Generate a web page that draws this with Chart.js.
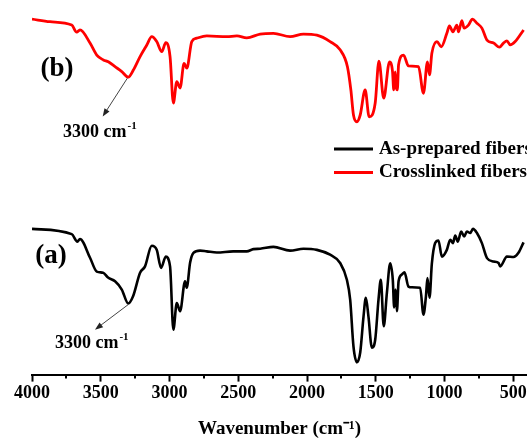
<!DOCTYPE html>
<html>
<head>
<meta charset="utf-8">
<script src="https://cdn.jsdelivr.net/npm/chart.js@4.4.0/dist/chart.umd.min.js"></script>
<style>
  html, body { margin: 0; padding: 0; background: #fff; overflow: hidden; }
  #wrap { width: 527px; height: 441px; overflow: hidden; }
</style>
</head>
<body>
<div id="wrap"><canvas id="ftir" width="560" height="441"></canvas></div>
<script>
const SERIF = '"Liberation Serif", "Times New Roman", serif';

//As-prepared fibers (a), wavenumber (cm-1) and transmittance (a.u.)
const asPreparedWn = [4000, 3711, 3670, 3651, 3578, 3529, 3483, 3447, 3396, 3347, 3300, 3265, 3214, 3178, 3129, 3093, 3061, 3027, 2996, 2972, 2947, 2923, 2887, 2875, 2850, 2826, 2778, 2729, 2656, 2537, 2438, 2390, 2341, 2244, 2123, 2026, 1928, 1832, 1759, 1710, 1686, 1662, 1637, 1613, 1589, 1572, 1553, 1528, 1504, 1480, 1463, 1442, 1419, 1395, 1376, 1366, 1356, 1346, 1334, 1310, 1291, 1262, 1237, 1177, 1153, 1135, 1124, 1109, 1092, 1068, 1044, 1019, 983, 958, 939, 922, 903, 879, 857, 837, 813, 793, 764, 728, 691, 643, 607, 595, 546, 498, 462, 425];
const asPreparedT = [38.9, 37.5, 35.5, 36.2, 31.2, 27.5, 27.2, 25.9, 24.9, 22.7, 19.0, 20.9, 27.2, 28.9, 34.4, 33.3, 28.5, 31.5, 28.9, 12.0, 19.1, 16.9, 24.9, 23.2, 29.9, 32.5, 33.1, 32.9, 32.6, 32.9, 32.9, 33.5, 33.6, 34.1, 33.1, 33.6, 33.3, 32.0, 29.8, 25.3, 20.0, 7.5, 3.3, 5.9, 15.5, 20.5, 15.5, 7.2, 9.3, 20.0, 25.3, 12.9, 21.8, 29.7, 25.3, 17.9, 22.7, 16.9, 24.9, 26.7, 27.3, 23.5, 23.3, 23.2, 16.0, 20.9, 25.8, 20.5, 29.6, 35.1, 35.8, 31.5, 33.3, 36.0, 35.1, 37.1, 35.5, 38.2, 36.9, 38.2, 37.8, 38.9, 37.8, 35.1, 31.1, 30.2, 29.8, 28.9, 31.5, 31.4, 32.5, 35.3];

//Crosslinked fibers (b)
const crosslinkedWn = [4000, 3869, 3711, 3675, 3651, 3578, 3529, 3481, 3445, 3396, 3347, 3300, 3263, 3214, 3165, 3129, 3093, 3056, 3027, 2996, 2972, 2947, 2923, 2894, 2874, 2838, 2802, 2729, 2583, 2510, 2438, 2341, 2244, 2123, 2026, 1928, 1832, 1759, 1706, 1681, 1662, 1637, 1613, 1577, 1548, 1504, 1477, 1442, 1400, 1378, 1369, 1359, 1352, 1343, 1334, 1298, 1262, 1189, 1153, 1124, 1109, 1092, 1055, 1024, 983, 964, 939, 910, 898, 874, 857, 826, 797, 764, 728, 691, 643, 600, 571, 546, 522, 486, 425];
const crosslinkedT = [94.9, 94.2, 93.3, 91.4, 92.0, 88.5, 85.3, 84.0, 83.5, 82.2, 80.9, 79.4, 81.3, 84.9, 88.0, 90.2, 88.9, 86.2, 88.6, 84.9, 72.5, 78.2, 76.5, 83.1, 81.8, 88.9, 89.8, 90.4, 90.2, 90.4, 89.9, 90.9, 91.1, 90.2, 90.9, 90.6, 88.9, 86.7, 82.2, 76.0, 69.3, 67.5, 69.3, 76.0, 68.8, 72.5, 83.7, 73.8, 83.5, 80.9, 76.0, 80.8, 76.9, 76.0, 82.7, 85.3, 82.4, 82.2, 75.1, 83.5, 80.0, 85.8, 88.9, 87.5, 91.1, 93.1, 91.5, 93.3, 91.5, 94.5, 92.5, 93.3, 94.9, 93.8, 92.5, 89.3, 88.5, 87.4, 88.5, 89.1, 88.0, 88.9, 92.0];

const seriesLabels = ["As-prepared fibers", "Crosslinked fibers"];
const seriesColors = ["#000000", "#ff0000"];
//labelled ticks and the unlabelled ticks between them
const tickValues = [4000, 3500, 3000, 2500, 2000, 1500, 1000, 500];
const minorTickValues = [3750, 3250, 2750, 2250, 1750, 1250, 750];

//annotations, placed in data units: [wavenumber, transmittance]
const curveTags = [
  { text: "(b)", at: [3818, 81.6] },
  { text: "(a)", at: [3862, 31.7] },
];
const peakNotes = [
  { from: [3307, 79.1], to: [3486, 68.9], label: [3774, 63.5] },
  { from: [3300, 18.7], to: [3542, 12.0], label: [3833, 7.2] },
];

const toPoints = (xs, ys) => xs.map((x, i) => ({ x: x, y: ys[i] }));

//draw text with a superscript after it
const drawSup = (ctx, x, y, base, sup, size) => {
  ctx.font = `bold ${size}px ${SERIF}`;
  ctx.fillText(base, x, y);
  const w = ctx.measureText(base).width;
  ctx.font = `bold ${Math.round(size * 0.62)}px ${SERIF}`;
  ctx.fillText(sup, x + w + 1, y - size * 0.42);
};

const extras = {
  id: "extras",
  afterDraw(chart) {
    const ctx = chart.ctx;
    const xs = chart.scales.x;
    const ys = chart.scales.y;
    const area = chart.chartArea;
    ctx.save();
    //minor ticks
    ctx.strokeStyle = "#000";
    ctx.lineWidth = 2;
    minorTickValues.forEach((v) => {
      const px = Math.round(xs.getPixelForValue(v));
      ctx.beginPath();
      ctx.moveTo(px, area.bottom);
      ctx.lineTo(px, area.bottom + 4);
      ctx.stroke();
    });
    //(a) / (b)
    ctx.fillStyle = "#000";
    ctx.textAlign = "center";
    ctx.textBaseline = "middle";
    ctx.font = `bold 27px ${SERIF}`;
    curveTags.forEach((t) => {
      ctx.fillText(t.text, xs.getPixelForValue(t.at[0]), ys.getPixelForValue(t.at[1]));
    });
    //3300 cm-1 arrows
    peakNotes.forEach((n) => {
      const x1 = xs.getPixelForValue(n.from[0]), y1 = ys.getPixelForValue(n.from[1]);
      const x2 = xs.getPixelForValue(n.to[0]), y2 = ys.getPixelForValue(n.to[1]);
      const ang = Math.atan2(y2 - y1, x2 - x1);
      ctx.strokeStyle = "#444";
      ctx.lineWidth = 1;
      ctx.beginPath();
      ctx.moveTo(x1, y1);
      ctx.lineTo(x2 - 6 * Math.cos(ang), y2 - 6 * Math.sin(ang));
      ctx.stroke();
      ctx.fillStyle = "#222";
      ctx.beginPath();
      ctx.moveTo(x2, y2);
      ctx.lineTo(x2 - 8 * Math.cos(ang) + 3 * Math.sin(ang), y2 - 8 * Math.sin(ang) - 3 * Math.cos(ang));
      ctx.lineTo(x2 - 8 * Math.cos(ang) - 3 * Math.sin(ang), y2 - 8 * Math.sin(ang) + 3 * Math.cos(ang));
      ctx.closePath();
      ctx.fill();
      ctx.fillStyle = "#000";
      ctx.textAlign = "left";
      ctx.textBaseline = "alphabetic";
      drawSup(ctx, xs.getPixelForValue(n.label[0]), ys.getPixelForValue(n.label[1]), "3300 cm", "-1", 18);
    });
    //legend
    ctx.textAlign = "left";
    ctx.textBaseline = "middle";
    ctx.font = `bold 19px ${SERIF}`;
    chart.data.datasets.forEach((ds, i) => {
      const ly = area.top + 149 + i * 23.5;
      ctx.strokeStyle = ds.borderColor;
      ctx.lineWidth = 3;
      ctx.beginPath();
      ctx.moveTo(area.left + 302, ly);
      ctx.lineTo(area.left + 341, ly);
      ctx.stroke();
      ctx.fillStyle = "#000";
      ctx.fillText(ds.label, area.left + 347, ly);
    });
    ctx.restore();
  },
};

new Chart(document.getElementById("ftir"), {
  type: "line",
  plugins: [extras],
  data: {
    datasets: [
      {
        label: seriesLabels[0],
        data: toPoints(asPreparedWn, asPreparedT),
        borderColor: seriesColors[0],
        borderWidth: 2.6,
      },
      {
        label: seriesLabels[1],
        data: toPoints(crosslinkedWn, crosslinkedT),
        borderColor: seriesColors[1],
        borderWidth: 2.8,
      },
    ],
  },
  options: {
    responsive: false,
    devicePixelRatio: 1,
    animation: false,
    layout: { padding: { left: 32, right: 33, top: 0, bottom: 0 } },
    elements: {
      point: { radius: 0 },
      line: { cubicInterpolationMode: "monotone", borderJoinStyle: "round" },
    },
    plugins: {
      legend: { display: false },
      tooltip: { enabled: false },
    },
    scales: {
      x: {
        type: "linear",
        reverse: true,
        min: 400,
        max: 4000,
        afterBuildTicks: (scale) => {
          scale.ticks = tickValues.map((v) => ({ value: v }));
        },
        grid: { drawOnChartArea: false, tickLength: 7, tickWidth: 2, tickColor: "#000" },
        border: { color: "#000", width: 2 },
        ticks: {
          padding: 1,
          color: "#000",
          maxRotation: 0,
          autoSkip: false,
          font: { family: SERIF, size: 18, weight: "bold" },
          callback: (v) => String(v),
        },
        title: {
          display: true,
          text: "Wavenumber (cm⁻¹)",
          color: "#000",
          padding: { top: 12, bottom: 1 },
          font: { family: SERIF, size: 19, weight: "bold" },
        },
      },
      y: { display: false, min: 0, max: 100 },
    },
  },
});
</script>
</body>
</html>
